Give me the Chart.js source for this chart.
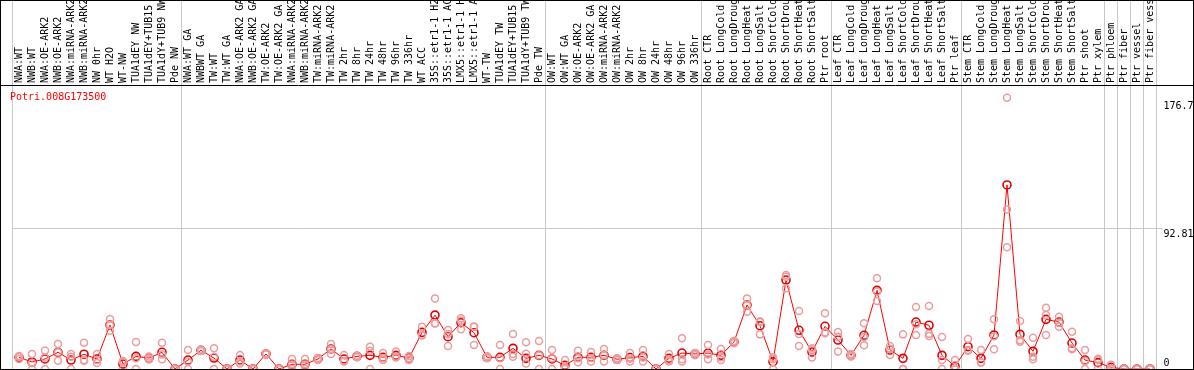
<!DOCTYPE html>
<html>
<head>
<meta charset="utf-8">
<script src="https://cdn.jsdelivr.net/npm/chart.js@4.4.1/dist/chart.umd.min.js"></script>
<style>
  html, body { margin: 0; padding: 0; background: #fff; }
  #wrap { width: 1194px; height: 370px; }
</style>
</head>
<body>
<div id="wrap"><canvas id="efp" width="1194" height="370"></canvas></div>
<script>
const GENE_ID = "Potri.008G173500";

const labels = [
  "NWA:WT", "NWB:WT", "NWA:OE-ARK2", "NWB:OE-ARK2", "NWA:miRNA-ARK2", "NWB:miRNA-ARK2",
  "NW 0hr", "WT H2O", "WT-NW", "TUA1dEY NW", "TUA1dEY+TUB15", "TUA1dY+TUB9 NW", "Pde NW",
  "NWA:WT GA", "NWBWT GA", "TW:WT", "TW:WT GA", "NWA:OE-ARK2 GA", "NWB:OE-ARK2 GA",
  "TW:OE-ARK2", "TW:OE-ARK2 GA", "NWA:miRNA-ARK2", "NWB:miRNA-ARK2", "TW:miRNA-ARK2",
  "TW:miRNA-ARK2", "TW 2hr", "TW 8hr", "TW 24hr", "TW 48hr", "TW 96hr", "TW 336hr",
  "WT ACC", "35S::etr1-1 H2O", "35S::etr1-1 ACC", "LMX5::etr1-1 H2O", "LMX5::etr1-1 ACC",
  "WT-TW", "TUA1dEY TW", "TUA1dEY+TUB15", "TUA1dY+TUB9 TW", "Pde TW",
  "OW:WT", "OW:WT GA", "OW:OE-ARK2", "OW:OE-ARK2 GA", "OW:miRNA-ARK2", "OW:miRNA-ARK2",
  "OW 2hr", "OW 8hr", "OW 24hr", "OW 48hr", "OW 96hr", "OW 336hr",
  "Root CTR", "Root LongCold", "Root LongDrought", "Root LongHeat", "Root LongSalt",
  "Root ShortCold", "Root ShortDrought", "Root ShortHeat", "Root ShortSalt", "Ptr root",
  "Leaf CTR", "Leaf LongCold", "Leaf LongDrought", "Leaf LongHeat", "Leaf LongSalt",
  "Leaf ShortCold", "Leaf ShortDrought", "Leaf ShortHeat", "Leaf ShortSalt", "Ptr leaf",
  "Stem CTR", "Stem LongCold", "Stem LongDrought", "Stem LongHeat", "Stem LongSalt",
  "Stem ShortCold", "Stem ShortDrought", "Stem ShortHeat", "Stem ShortSalt", "Ptr shoot",
  "Ptr xylem", "Ptr phloem", "Ptr fiber", "Ptr vessel", "Ptr fiber vessel"
];

// mean expression per sample
const means = [
  7.7, 4.6, 6.6, 11, 5.9, 9.7, 6.6, 29, 3.3, 8.3, 7.2, 11, 0,
  5.9, 12.3, 7.2, 0, 5.9, 0, 9.9, 0, 3.1, 3.1, 6.6, 13.2, 6.6, 8.3, 9, 7.7, 9, 7.2,
  24.1, 35.5, 21.3, 30.5, 23.9, 7.7, 7.7, 13.6, 7, 9,
  6.6, 2.4, 7.7, 7.7, 9, 6.4, 7.5, 8.3, 0, 7, 10.5, 9.9,
  10.5, 9, 17.8, 42.1, 28.5, 4.8, 58.6, 25.5, 11.2, 28.1,
  19.1, 9, 22.2, 51.8, 12.5, 7, 30.9, 28.8, 9, 1.8,
  14.7, 7, 22.4, 121.2, 22.8, 11.6, 32.7, 30.9, 17.1, 5.9, 4.2,
  1.1, 0, 0, 0
];

// individual replicates
const rep1 = [
  8.5, 9.9, 12.1, 16.5, 9.9, 17.3, 9.9, 32.9, 5.3, 17.8, 8.2, 17.3, 0,
  12.5, 12.8, 13.6, 0, 9.2, 0, 10.2, 0, 6.6, 6.6, 7.2, 16.5, 9.2, 8.8, 14.7, 10.5, 11.6, 8.5,
  27.9, 46.5, 25.7, 33.4, 27.9, 8.3, 15.8, 23, 17.6, 18.4,
  12.5, 6, 12, 11.2, 13.2, 7, 10.5, 12.5, 0, 9.9, 20.2, 10.5,
  15.8, 13.2, 18.5, 46.5, 31.5, 7.7, 61.9, 38.2, 13.6, 36.7,
  24.4, 9.9, 30.1, 59.7, 15.1, 22.8, 40.8, 41.5, 21.1, 5.9,
  19.7, 12.5, 32.7, 178.6, 31.6, 20.6, 40.4, 34.4, 24.6, 12.5, 5.9,
  2.8, 0, 0, 0
];
const rep2 = [
  6.6, 0, 0, 5.5, 0, 5.5, 6, 25.2, 0, 0, 6.2, 6.4, 0,
  0, 11.8, 0, 0, 3.7, 0, 9.5, 0, 0, 0, 6, 9.9, 5, 7.8, 0, 6, 7.5, 6,
  22.4, 30.1, 15.1, 26.1, 15.8, 7, 0, 9.9, 3.7, 0,
  0, 0, 4.4, 5, 5, 6, 5, 5, 0, 6, 5, 9,
  6.4, 7.7, 17, 37.7, 22.8, 0, 53.1, 15.1, 7.5, 23.5,
  11.6, 8.2, 15.6, 44.8, 9.2, 0, 22.4, 21.7, 0, 0,
  12, 4.2, 13, 80.1, 18, 6.4, 22.4, 27.9, 13, 0, 0,
  0, 0, 0, 0
];
const rep3 = [
  8, 4, 7.5, 11, 8, 6, 4, 29, 4.5, 7, 7, 9.5, 0,
  5, 12.3, 8, 0, 5, 0, 10, 0, 3, 3, 6.6, 13, 5.5, 8.3, 12, 7, 8, 7,
  22, 30, 23, 32, 28, 8, 7, 8, 10, 9,
  7, 1.2, 7, 7, 9, 6.4, 7, 7.5, 0, 5, 6.5, 10,
  9.5, 6, 18, 42, 31, 6.5, 60.8, 23, 12.5, 24,
  21.3, 9, 21, 51, 13.2, 0, 29.5, 23.2, 6, 0,
  12.5, 4.5, 21.5, 105, 19, 8, 35.5, 30.5, 13.7, 5.2, 6.7,
  0.5, 0, 0, 0
];

const yTicks = [0, 92.81, 176.7];
const yMax = 187;
// grid lines sit before these sample indexes (88 = right edge)
const groupBreaks = [0, 13, 41, 53, 63, 73, 84, 85, 86, 87, 88];

const GRID = "#c8c8c8";
const MONO = "'DejaVu Sans Mono', monospace";

const framePlugin = {
  id: "frame",
  afterDraw(chart) {
    const ctx = chart.ctx;
    const w = chart.width, h = chart.height;
    const top = chart.chartArea.top;
    ctx.save();
    ctx.strokeStyle = "#000";
    ctx.lineWidth = 1;
    ctx.strokeRect(0.5, 0.5, w - 1, h - 1);
    ctx.beginPath();
    ctx.moveTo(0, Math.round(top) + 0.5);
    ctx.lineTo(w, Math.round(top) + 0.5);
    ctx.stroke();
    ctx.fillStyle = "#ff0000";
    ctx.font = "10px " + MONO;
    ctx.textBaseline = "middle";
    ctx.fillText(GENE_ID, 10, top + 12);
    ctx.restore();
  }
};

const repStyle = {
  showLine: false,
  pointStyle: "circle",
  pointRadius: 3.5,
  pointBorderWidth: 1.5,
  pointBorderColor: "#eb9c9c",
  pointBackgroundColor: "rgba(0,0,0,0)",
  borderColor: "#eb9c9c"
};

const isBreak = c => c.index === undefined || groupBreaks.includes(c.index);

new Chart(document.getElementById("efp"), {
  type: "line",
  data: {
    labels: labels,
    datasets: [
      { label: "rep1", data: rep1, ...repStyle },
      { label: "rep2", data: rep2, ...repStyle },
      { label: "rep3", data: rep3, ...repStyle },
      {
        label: "mean",
        data: means,
        borderColor: "#ff0000",
        borderWidth: 1,
        pointRadius: 4,
        pointBorderWidth: 1.6,
        pointBorderColor: "#e00000",
        pointBackgroundColor: "rgba(0,0,0,0)",
        tension: 0
      }
    ]
  },
  options: {
    responsive: false,
    animation: false,
    devicePixelRatio: 1,
    layout: { autoPadding: false, padding: { left: 12.5, right: 0, top: 0, bottom: 1 } },
    plugins: {
      legend: { display: false },
      tooltip: { enabled: false }
    },
    scales: {
      x: {
        type: "category",
        position: "top",
        offset: true,
        afterFit: s => {
          s.height = 85;
          s.paddingLeft = 0;
          s.paddingRight = 0;
        },
        border: { display: false },
        grid: {
          offset: true,
          lineWidth: 1,
          tickLength: 85,
          color: c => isBreak(c) ? GRID : "rgba(0,0,0,0)",
          tickColor: c => isBreak(c) ? GRID : "rgba(0,0,0,0)"
        },
        ticks: {
          autoSkip: false,
          minRotation: 90,
          maxRotation: 90,
          padding: -83,
          labelOffset: 12,
          color: "#000",
          font: { family: MONO, size: 10 }
        }
      },
      y: {
        position: "right",
        min: 0,
        max: yMax,
        afterFit: s => {
          s.width = 37.5;
          s.paddingTop = 0;
          s.paddingBottom = 0;
        },
        afterBuildTicks: s => { s.ticks = yTicks.map(v => ({ value: v })); },
        border: { display: false },
        grid: {
          lineWidth: 1,
          tickLength: 6,
          color: c => (c.tick && c.tick.value === 92.81) ? GRID : "rgba(0,0,0,0)",
          tickColor: c => (c.tick && c.tick.value === 92.81) ? GRID : "rgba(0,0,0,0)"
        },
        ticks: {
          padding: 1,
          color: "#000",
          font: { family: MONO, size: 10 },
          callback: v => v === 0 ? ["0", ""] : ["", String(v)]
        }
      }
    }
  },
  plugins: [framePlugin]
});
</script>
</body>
</html>
